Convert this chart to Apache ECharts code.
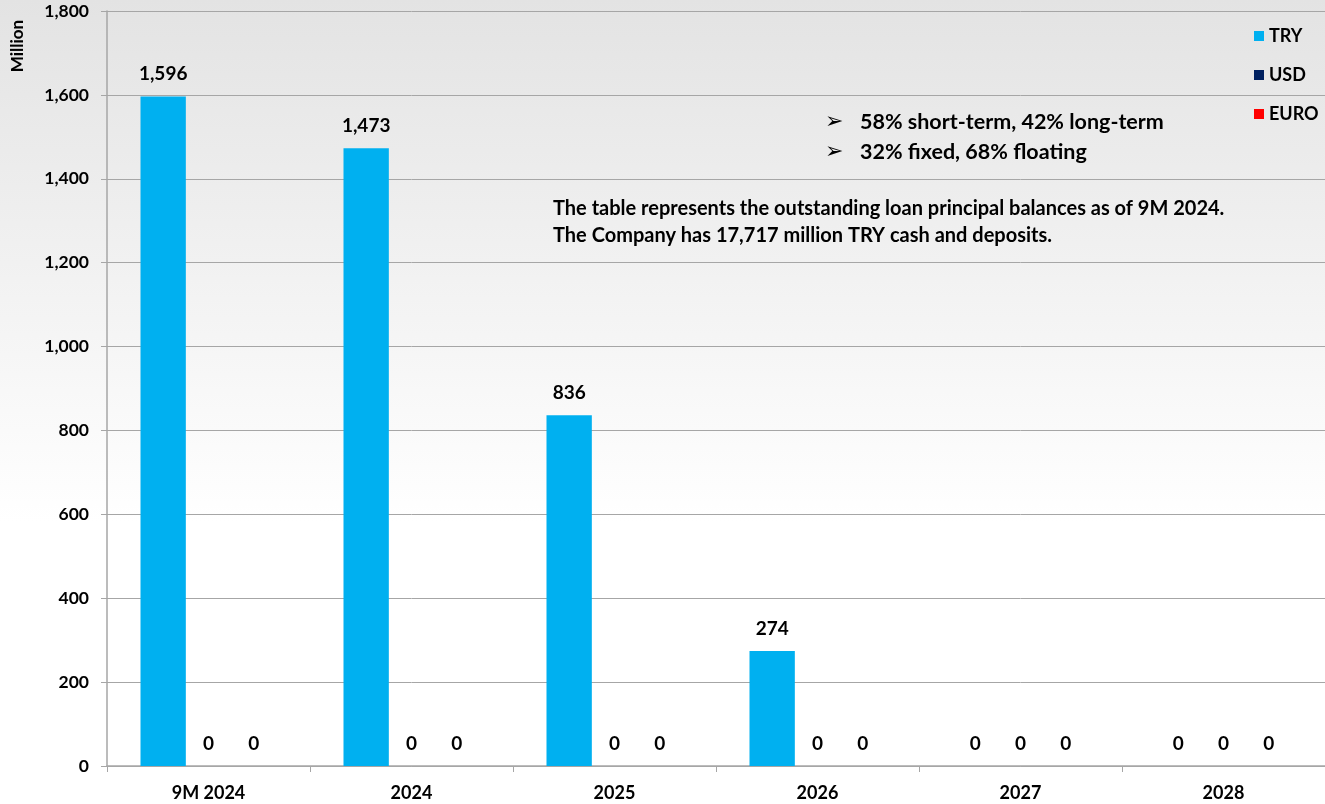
<!DOCTYPE html>
<html><head><meta charset="utf-8">
<script src="https://cdn.jsdelivr.net/npm/echarts@6/dist/echarts.min.js"></script>
<style>html,body{margin:0;padding:0;}#c{width:1325px;height:804px;}</style>
</head><body><div id="c"></div>
<script>
const categories = ['9M 2024','2024','2025','2026','2027','2028'];
const seriesNames = ['TRY','USD','EURO'];
const tryValues = [1596,1473,836,274,0,0];
const usdValues = [0,0,0,0,0,0];
const euroValues = [0,0,0,0,0,0];
const colors = ['#00b0f0','#002060','#ff0000'];
const yTicks = {min:0,max:1800,interval:200};
const yAxisTitle = 'Million';
const noteLines = ['58% short-term, 42% long-term','32% fixed, 68% floating'];
const paraLines = ['The table represents the outstanding loan principal balances as of 9M 2024.','The Company has 17,717 million TRY cash and deposits.'];

const FONT = 'Lato, "Open Sans", sans-serif';
const chart = echarts.init(document.getElementById('c'));
const fmt = v => v.toLocaleString('en-US');
function mk(name, data, color){
  return {name, type:'bar', data, barGap:'0%', barCategoryGap:'33%',
    itemStyle:{color},
    label:{show:true, position:'top', distance:13, color:'#000', fontWeight:'bold', fontSize:19, fontFamily:FONT,
      formatter:p=>fmt(p.value)}};
}
const series = [mk('TRY',tryValues,colors[0]), mk('USD',usdValues,colors[1]), mk('EURO',euroValues,colors[2])];
chart.setOption({
  backgroundColor:{type:'linear',x:0,y:0,x2:0,y2:1,colorStops:[{offset:0,color:'#e3e3e3'},{offset:0.65,color:'#ffffff'},{offset:1,color:'#ffffff'}]},
  animation:false,
  textStyle:{fontFamily:FONT},
  grid:{left:107, top:11, width:1222, bottom:38},
  legend:{data:seriesNames, orient:'vertical', left:1249, top:22, itemWidth:10, itemHeight:10, itemGap:21, icon:'rect',
    textStyle:{fontSize:18, fontWeight:'bold', color:'#000', fontFamily:FONT}},
  xAxis:{type:'category', data:categories,
    axisLine:{lineStyle:{color:'#a6a6a6', width:1.5}},
    axisTick:{show:true, length:6, lineStyle:{color:'#a6a6a6'}},
    axisLabel:{color:'#000', fontWeight:'bold', fontSize:18, margin:18, fontFamily:FONT}},
  yAxis:{type:'value', min:yTicks.min, max:yTicks.max, interval:yTicks.interval,
    axisLine:{show:true, lineStyle:{color:'#a6a6a6', width:1.5}},
    axisTick:{show:true, length:6, lineStyle:{color:'#a6a6a6'}},
    splitLine:{lineStyle:{color:'#a6a6a6', width:1}},
    axisLabel:{color:'#000', fontWeight:'bold', fontSize:17.5, margin:18, formatter:v=>fmt(v), fontFamily:FONT}},
  series,
  graphic:[
    {type:'text', x:18, y:46, rotation:Math.PI/2, style:{text:yAxisTitle, align:'center', verticalAlign:'middle', fill:'#000', font:'bold 17px '+FONT}},
    ...noteLines.map((t,i)=>({type:'text', left:825, top:111+i*30, style:{text:'➢', fill:'#000', font:'bold 22px "DejaVu Sans"'}})),
    ...noteLines.map((t,i)=>({type:'text', left:860, top:111+i*30, style:{text:t, fill:'#000', font:'bold 21.5px '+FONT}})),
    ...paraLines.map((t,i)=>({type:'text', left:553, top:199+i*27, style:{text:t, fill:'#000', font:'bold 20px '+FONT}}))
  ]
});
</script></body></html>
